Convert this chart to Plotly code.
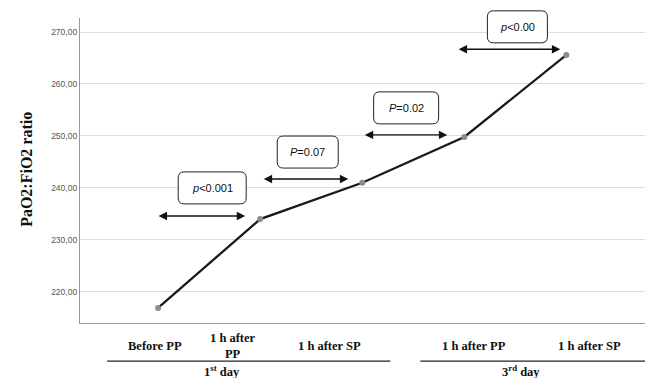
import plotly.graph_objects as go

# ---- data ----
categories = ["Before PP", "1 h after<br>PP", "1 h after SP", "1 h after PP", "1 h after SP"]
values = [216.9, 234.0, 241.0, 249.8, 265.6]
groups = ["1<sup>st</sup> day", "3<sup>rd</sup> day"]
y_ticks = [220, 230, 240, 250, 260, 270]
y_ticktext = ["220,00", "230,00", "240,00", "250,00", "260,00", "270,00"]
p_labels = ["<i>p</i>&lt;0.001", "<i>P</i>=0.07", "<i>P</i>=0.02", "<i>p</i>&lt;0.00"]

# ---- placement (in category units / axis units) ----
cat_label_x = [-0.034, 0.735, 1.676, 3.093, 4.225]
group_label_x = [0.627, 3.559]
group_line_x0 = [-0.50, 2.569]
group_line_x1 = [2.275, 4.85]
arrow_x0 = [-0.01, 1.02, 2.01, 2.93]
arrow_x1 = [0.853, 1.863, 2.833, 3.94]
arrow_y = [234.6, 241.7, 250.2, 266.7]
box_x = [0.53, 1.466, 2.43, 3.52]
box_y = [240.0, 246.9, 255.4, 271.0]
box_w = [68, 61, 65, 60]

x_idx = list(range(len(values)))
XR = [-0.765, 4.77]
YR = [214.0, 272.7]

fig = go.Figure()
fig.add_trace(go.Scatter(
    x=x_idx, y=values, mode="lines+markers",
    line=dict(color="#1a1a1a", width=2.3),
    marker=dict(color="#8c8c8c", size=6),
    hoverinfo="skip", showlegend=False,
))

serif = "Liberation Serif"
annotations = []
shapes = []

# category labels
for lx, c in zip(cat_label_x, categories):
    annotations.append(dict(
        x=lx, y=-0.075, xref="x", yref="paper", text="<b>" + c + "</b>",
        showarrow=False, xanchor="center", yanchor="middle",
        font=dict(family=serif, size=12.5, color="#111"),
    ))

# group lines + labels
for g, gx, x0, x1 in zip(groups, group_label_x, group_line_x0, group_line_x1):
    shapes.append(dict(type="line", xref="x", yref="paper", x0=x0, x1=x1,
                       y0=-0.125, y1=-0.125, line=dict(color="#222", width=1.3)))
    annotations.append(dict(
        x=gx, y=-0.158, xref="x", yref="paper", text="<b>" + g + "</b>",
        showarrow=False, xanchor="center", yanchor="middle",
        font=dict(family=serif, size=12.5, color="#111"),
    ))

# y title
annotations.append(dict(
    x=-0.094, y=0.505, xref="paper", yref="paper", text="<b>PaO2:FiO2 ratio</b>",
    textangle=-90, showarrow=False, xanchor="center", yanchor="middle",
    font=dict(family=serif, size=16, color="#111"),
))

# p-value arrows and boxes
for lab, ax0, ax1, ay, bx, by, bw in zip(p_labels, arrow_x0, arrow_x1, arrow_y, box_x, box_y, box_w):
    annotations.append(dict(
        x=ax1, y=ay, ax=ax0, ay=ay, xref="x", yref="y", axref="x", ayref="y",
        showarrow=True, arrowhead=2, startarrowhead=2, arrowside="end+start",
        arrowsize=1.2, startarrowsize=1.2, arrowwidth=1.4, arrowcolor="#111", text="",
        standoff=0, startstandoff=0,
    ))
    hw, hh, r = bw / 2, 16, 6
    path = (f"M {-hw + r},{-hh} L {hw - r},{-hh} Q {hw},{-hh} {hw},{-hh + r} "
            f"L {hw},{hh - r} Q {hw},{hh} {hw - r},{hh} L {-hw + r},{hh} "
            f"Q {-hw},{hh} {-hw},{hh - r} L {-hw},{-hh + r} Q {-hw},{-hh} {-hw + r},{-hh} Z")
    px = (bx - XR[0]) / (XR[1] - XR[0])
    py = (by - YR[0]) / (YR[1] - YR[0])
    shapes.append(dict(type="path", xref="paper", yref="paper", xsizemode="pixel", ysizemode="pixel",
                       xanchor=px, yanchor=py, path=path,
                       line=dict(color="#222", width=1), fillcolor="white", layer="above"))
    annotations.append(dict(
        x=bx, y=by, xref="x", yref="y", text=lab, showarrow=False,
        xanchor="center", yanchor="middle",
        font=dict(family="Liberation Sans", size=11, color="#111"),
    ))

fig.update_layout(
    width=647, height=378,
    margin=dict(l=80, r=2, t=18, b=55),
    paper_bgcolor="white", plot_bgcolor="white",
    annotations=annotations, shapes=shapes,
    xaxis=dict(range=XR, showticklabels=False, showgrid=False, zeroline=False,
               showline=True, linecolor="#9a9a9a", linewidth=1.3, ticks=""),
    yaxis=dict(range=YR, tickvals=y_ticks, ticktext=y_ticktext,
               showgrid=True, gridcolor="#dedede", gridwidth=1, zeroline=False,
               showline=True, linecolor="#9a9a9a", linewidth=1.3, ticks="",
               tickfont=dict(family="Liberation Sans", size=8.5, color="#555")),
    showlegend=False,
)

fig.write_html("out.html", config={"displayModeBar": False},
               post_script="document.body.style.margin='0px';")
